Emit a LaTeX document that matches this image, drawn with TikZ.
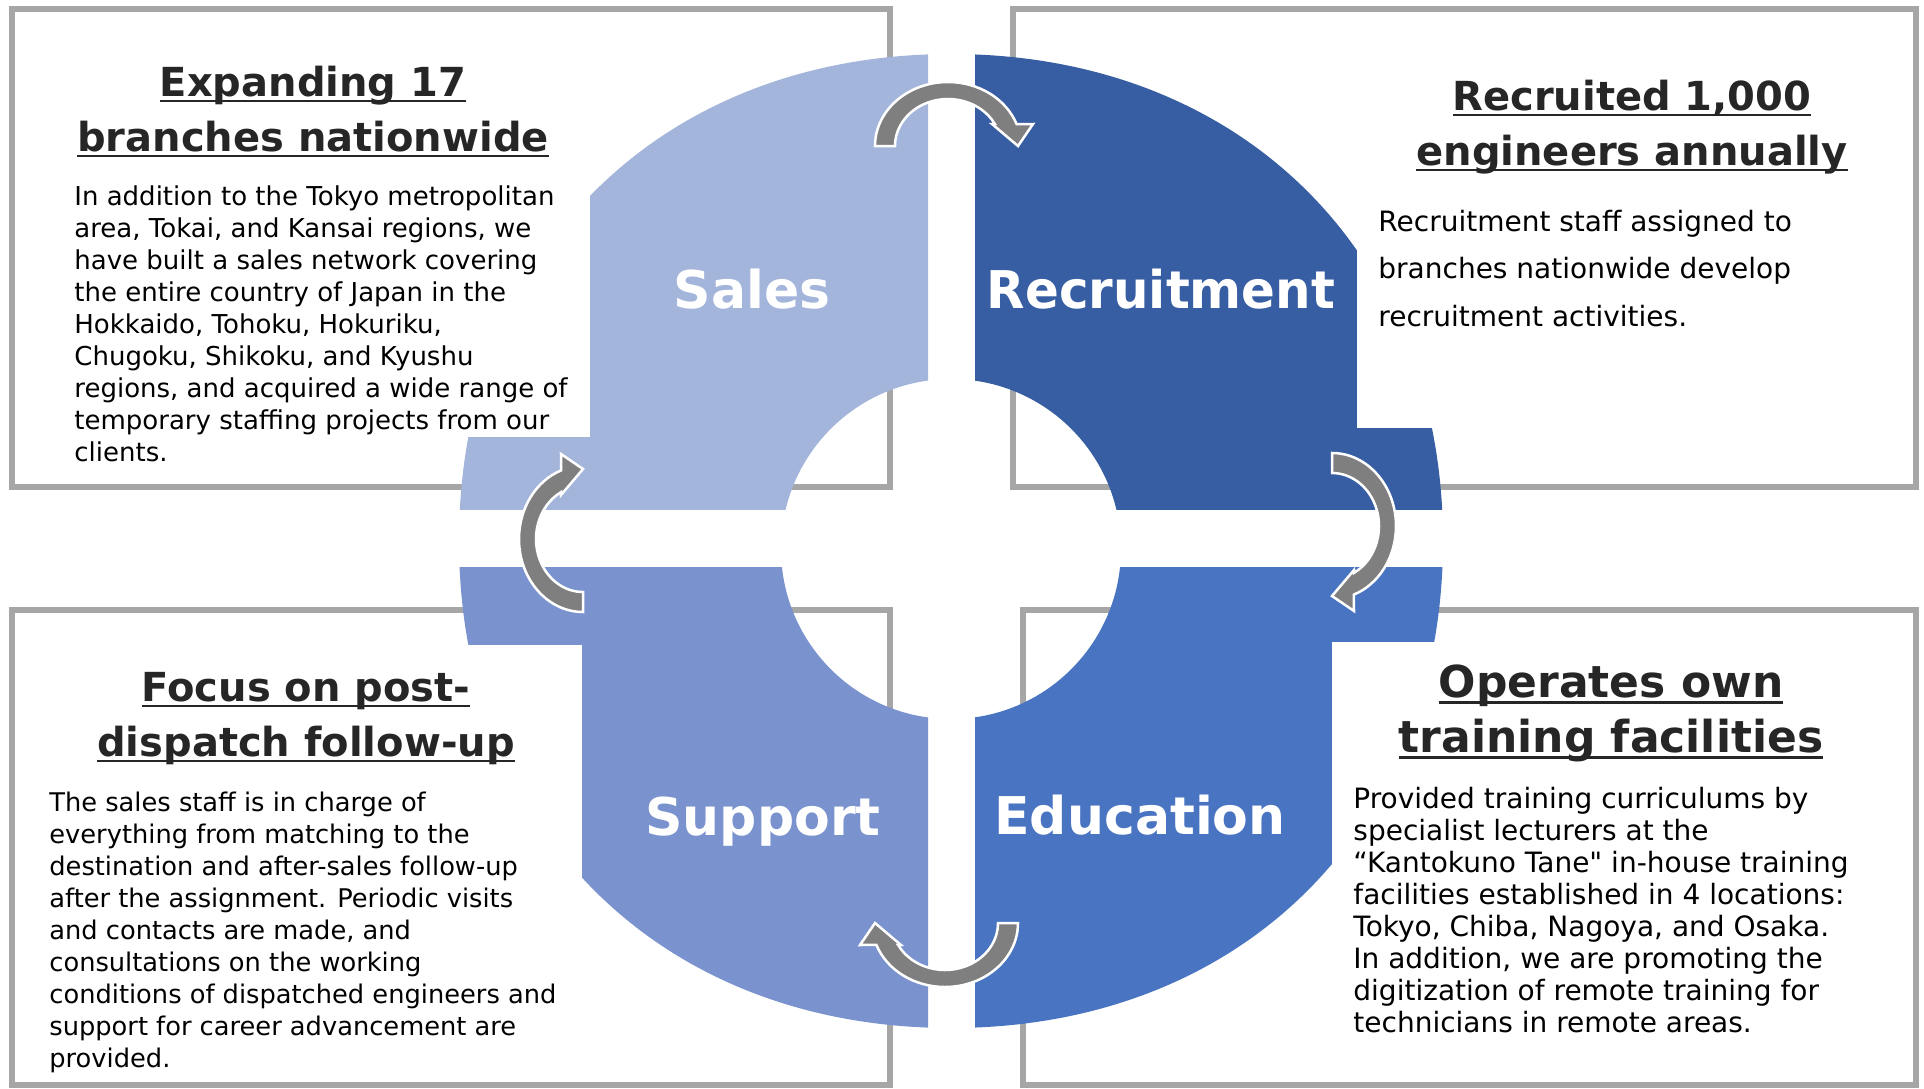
\documentclass[tikz,border=0pt]{standalone}
\usepackage{fontspec}
\setmainfont{DejaVu Sans}
\newfontfamily\rawfont{DejaVu Sans}
\usepackage{xcolor}
\usepackage{tikz}
\definecolor{salesc}{HTML}{A4B5DC}
\definecolor{recrc}{HTML}{375EA2}
\definecolor{suppc}{HTML}{7A92CE}
\definecolor{educc}{HTML}{4874C1}
\definecolor{framec}{HTML}{A6A6A6}
\definecolor{arrowc}{HTML}{7F7F7F}
\definecolor{headc}{HTML}{262626}
\newcommand{\ulbar}[1]{\setbox0\hbox{#1}\rlap{\rule[-0.16em]{\wd0}{0.07em}}\box0}
\newcommand{\ringshape}{(459,541) .. controls (459,253.7) and (660.7,54) .. (951,54) .. controls (1241.3,54) and (1443,253.7) .. (1443,541) .. controls (1443,828.3) and (1241.3,1028) .. (951,1028) .. controls (660.7,1028) and (459,828.3) .. (459,541) -- cycle (951,549) circle[radius=170]}
\newcommand{\cyclearrow}[2]{\begin{scope}[shift={#1},rotate=#2]
\filldraw[arw] (180:73 and 64) arc[start angle=180,end angle=340,x radius=73,y radius=64] -- (85,-22) -- (70,0) -- (44,-22) -- (332:53 and 47) arc[start angle=332,end angle=180,x radius=53,y radius=47] -- cycle;
\end{scope}}

\begin{document}
\begin{tikzpicture}[x=0.5pt,y=-0.5pt]
\tikzstyle{frm}=[draw=framec,line width=3pt]
\tikzstyle{arw}=[fill=arrowc,draw=white,line width=1.25pt]
\tikzstyle{lbl}=[text=white,font=\fontsize{26}{30}\selectfont\bfseries,inner sep=0pt,anchor=base]
\tikzstyle{head}=[text=headc,align=center,inner sep=0pt,anchor=base]
\tikzstyle{body}=[align=left,inner sep=0pt,anchor=base west]

\useasboundingbox (0,0) rectangle (1924,1088);
\fill[white] (0,0) rectangle (1924,1088);
%
\draw[frm] (12,9) rectangle (890,487);
\draw[frm] (1013,9) rectangle (1916,487);
\draw[frm] (12,610) rectangle (890,1085);
\draw[frm] (1023,610) rectangle (1916,1085);
%
\begin{scope}
\clip (0,0) rectangle (928,509);
\fill[salesc,even odd rule] \ringshape;
\end{scope}
\begin{scope}
\clip (975,0) rectangle (1924,509);
\fill[recrc,even odd rule] \ringshape;
\end{scope}
\begin{scope}
\clip (0,567) rectangle (928,1088);
\fill[suppc,even odd rule] \ringshape;
\end{scope}
\begin{scope}
\clip (975,567) rectangle (1924,1088);
\fill[educc,even odd rule] \ringshape;
\end{scope}
%
\fill[white] (15,12) rectangle (590,437);
\fill[white] (1357,12) rectangle (1913,428);
\fill[white] (15,645) rectangle (582,1082);
\fill[white] (1332,642) rectangle (1913,1082);
%
\node[lbl](sales) at (752,308){Sales};
\node[lbl](recruit) at (1161,308){\scalebox{0.96}[1]{Recruitment}};
\node[lbl](support) at (763,835){Support};
\node[lbl](educ) at (1140,834){Education};
%
\cyclearrow{(948,146)}{0}
\cyclearrow{(1332,526)}{-90}
\cyclearrow{(945,923)}{180}
\cyclearrow{(583,539)}{90}
%
\node[head,font=\fontsize{20}{27.5}\selectfont\bfseries](salesh) at (313,151){\ulbar{Expanding 17}\\\ulbar{branches nationwide}};
\node[head,font=\fontsize{20}{27.5}\selectfont\bfseries](recruith) at (1632,165){\ulbar{Recruited 1,000}\\\ulbar{engineers annually}};
\node[head,font=\fontsize{20}{27.5}\selectfont\bfseries](supporth) at (306,756){\ulbar{Focus on post-}\\\ulbar{dispatch follow-up}};
\node[head,font=\fontsize{22}{27.5}\selectfont\bfseries](educh) at (1611,752){\ulbar{Operates own}\\\ulbar{training facilities}};
%
\node[body,font=\fontsize{13}{16}\selectfont](salest) at (74,461){In addition to the Tokyo metropolitan\\area, Tokai, and Kansai regions, we\\have built a sales network covering\\the entire country of Japan in the\\Hokkaido, Tohoku, Hokuriku,\\Chugoku, Shikoku, and Kyushu\\regions, and acquired a wide range of\\temporary staffing projects from our\\clients.};
\node[body,font=\fontsize{14}{23.75}\selectfont](recruitt) at (1378,326){Recruitment staff assigned to\\branches nationwide develop\\recruitment activities.};
\node[body,font=\fontsize{12.85}{16}\selectfont](supportt) at (49,1067){The sales staff is in charge of\\everything from matching to the\\destination and after-sales follow-up\\after the assignment. Periodic visits\\and contacts are made, and\\consultations on the working\\conditions of dispatched engineers and\\support for career advancement are\\provided.};
\node[body,font=\fontsize{14}{16}\selectfont](educt) at (1353,1032){Provided training curriculums by\\specialist lecturers at the\\“Kantokuno Tane{\rawfont"} in-house training\\facilities established in 4 locations:\\Tokyo, Chiba, Nagoya, and Osaka.\\In addition, we are promoting the\\digitization of remote training for\\technicians in remote areas.};
\end{tikzpicture}
\end{document}
